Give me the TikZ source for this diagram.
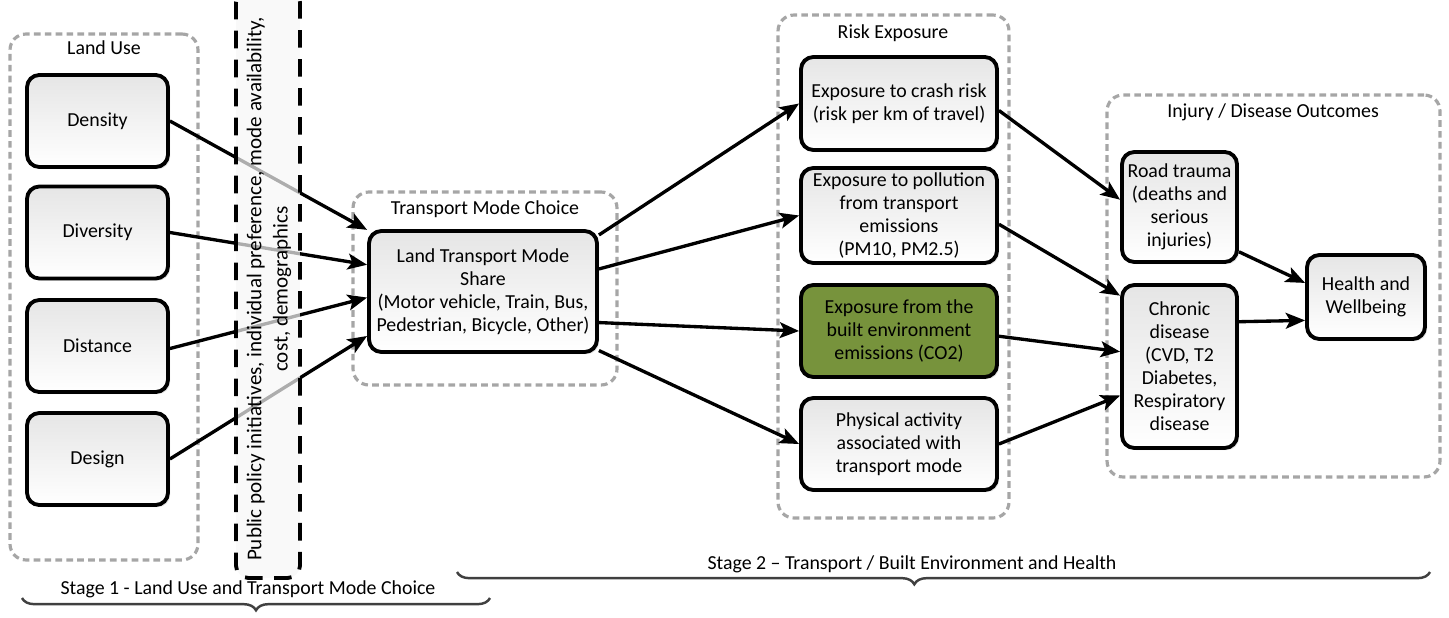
\documentclass[tikz,border=0pt]{standalone}
\usepackage{fontspec}
\setmainfont{Carlito}
\usetikzlibrary{arrows.meta,shadows,decorations.pathreplacing}
\definecolor{envgreen}{HTML}{77933C}

\begin{document}
\begin{tikzpicture}[x=0.02cm,y=-0.02cm,font=\fontsize{11.3}{13.1}\selectfont]
	\tikzset{box/.style={draw,line width=2.2pt,rounded corners=7pt,top color=black!10,bottom color=white,align=center,inner sep=1pt,drop shadow={shadow xshift=1.2pt,shadow yshift=-1.2pt,opacity=0.25}}}
	\tikzset{grp/.style={draw=black!35,line width=1.8pt,dash pattern=on 3.8pt off 2.4pt,rounded corners=9pt}}
	\tikzset{arr/.style={line width=1.9pt,-{Stealth[length=11pt,width=9pt,inset=2.5pt]}}}
	\tikzset{stage/.style={decorate,decoration={brace,mirror,amplitude=7pt,aspect=#1},draw=black!75,line width=1.4pt}}

	\clip (0,0) rectangle (1449,618);

	% groups
	\node[grp,minimum width=3.76cm,minimum height=10.52cm] (lu) at (104,297) {};
	\node (lut) at (104,48) {Land Use};
	\node[grp,minimum width=5.28cm,minimum height=3.86cm] (tm) at (485,288.5) {};
	\node (tmt) at (485,209) {Transport Mode Choice};
	\node[grp,minimum width=4.62cm,minimum height=10.06cm] (re) at (893.5,266.5) {};
	\node (ret) at (893,33) {Risk Exposure};
	\node[grp,minimum width=6.66cm,minimum height=7.64cm] (io) at (1273.5,286) {};
	\node (iot) at (1273,112) {Injury / Disease Outcomes};

	% boxes
	\node[box,minimum width=2.82cm,minimum height=1.84cm] (dens) at (97.5,121) {Density};
	\node[box,minimum width=2.82cm,minimum height=1.84cm] (dive) at (97.5,232.5) {Diversity};
	\node[box,minimum width=2.82cm,minimum height=1.84cm] (dist) at (97.5,346) {Distance};
	\node[box,minimum width=2.82cm,minimum height=1.84cm] (desi) at (97.5,459) {Design};

	\node[box,minimum width=4.56cm,minimum height=2.42cm] (share) at (483,291.5) {Land Transport Mode\\Share\\(Motor vehicle, Train, Bus,\\Pedestrian, Bicycle, Other)};

	\node[box,minimum width=3.92cm,minimum height=1.86cm] (crash) at (899,103.5) {Exposure to crash risk\\(risk per km of travel)};
	\node[box,minimum width=3.92cm,minimum height=1.9cm] (poll) at (899,215.5) {Exposure to pollution\\from transport\\emissions\\(PM10, PM2.5)};
	\node[box,fill=envgreen,top color=envgreen,bottom color=envgreen,minimum width=3.92cm,minimum height=1.84cm] (built) at (899,331) {Exposure from the\\built environment\\emissions (CO2)};
	\node[box,minimum width=3.92cm,minimum height=1.84cm] (phys) at (899,444) {Physical activity\\associated with\\transport mode};

	\node[box,minimum width=2.3cm,minimum height=2.2cm] (road) at (1179.5,207) {Road trauma\\(deaths and\\serious\\injuries)};
	\node[box,minimum width=2.3cm,minimum height=3.26cm] (chron) at (1179.5,366.5) {Chronic\\disease\\(CVD, T2\\Diabetes,\\Respiratory\\disease};
	\node[box,minimum width=2.36cm,minimum height=1.68cm] (health) at (1366,297) {Health and\\Wellbeing};

	% arrows
	\draw[arr] (dens.east) -- (share.152);
	\draw[arr] (dive.east) -- (share.167);
	\draw[arr] (dist.-2) -- (share.183);
	\draw[arr] (desi.east) -- (share.201);

	\draw[arr] (share.26) -- (crash.west);
	\draw[arr] (share.11) -- (poll.west);
	\draw[arr] (share.-15) -- (built.west);
	\draw[arr] (share.-27) -- (phys.west);

	\draw[arr] (crash.-4) -- (road.173);
	\draw[arr] (poll.-5) -- (chron.130);
	\draw[arr] (built.-3) -- (chron.166);
	\draw[arr] (phys.east) -- (chron.206);

	\draw[arr] (road.-37) -- (health.167);
	\draw[arr] (chron.37) -- (health.201);

	% policy band
	\node[draw,line width=2.2pt,dash pattern=on 10pt off 6.5pt,rounded corners=7pt,fill=black!3,fill opacity=0.7,minimum width=1.28cm,minimum height=11.76cm] (pol) at (268,284) {};
	\node[rotate=90,align=center,font=\fontsize{12}{15}\selectfont] (polt) at (269,289) {Public policy initiatives, individual preference, mode availability,\\cost, demographics};

	% stages
	\draw[stage=0.5] (22,598) -- (490,598);
	\node (s1) at (248,589) {Stage 1 - Land Use and Transport Mode Choice};
	\draw[stage=0.47] (457,572) -- (1430,572);
	\node (s2) at (912,564) {Stage 2 – Transport / Built Environment and Health};
\end{tikzpicture}
\end{document}
